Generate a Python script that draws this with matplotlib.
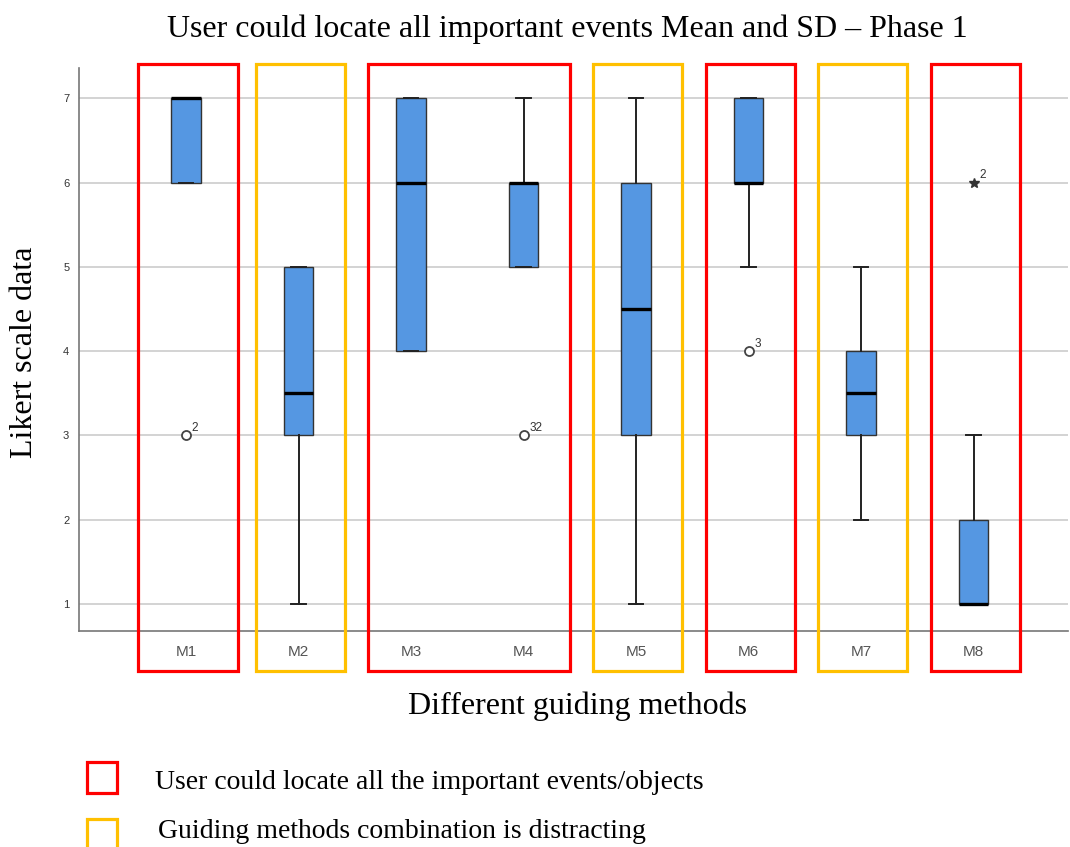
import matplotlib
matplotlib.use("Agg")
import matplotlib.pyplot as plt
import matplotlib.transforms as mtransforms
from matplotlib.patches import Rectangle

# Likert summary per guiding method
methods = ["M1", "M2", "M3", "M4", "M5", "M6", "M7", "M8"]
q1 = [6, 3, 4, 5, 3, 6, 3, 1]
median = [7, 3.5, 6, 6, 4.5, 6, 3.5, 1]
q3 = [7, 5, 7, 6, 6, 7, 4, 2]
whisker_low = [6, 1, 4, 5, 1, 5, 2, 1]
whisker_high = [7, 5, 7, 7, 7, 7, 5, 3]

# Outliers (o) and extreme values (*), with case labels
outlier_method = [1, 4, 6]
outlier_value = [3, 3, 4]
outlier_label = ["2", "32", "3"]
extreme_method = [8]
extreme_value = [6]
extreme_label = ["2"]

y_ticks = [1, 2, 3, 4, 5, 6, 7]

# Highlight groups: (first method, last method, category)
groups = [(1, 1, "locate"), (2, 2, "distract"), (3, 4, "locate"), (5, 5, "distract"),
          (6, 6, "locate"), (7, 7, "distract"), (8, 8, "locate")]
legend_labels = {"locate": "User could locate all the important events/objects",
                 "distract": "Guiding methods combination is distracting"}

RED = "#FF0000"
ORANGE = "#FFC000"
BOX = "#5597E2"
group_colors = {"locate": RED, "distract": ORANGE}

W, H = 1070, 847
fig = plt.figure(figsize=(W / 100, H / 100), dpi=100)
ax = fig.add_axes([79 / W, (H - 631) / H, (1068 - 79) / W, (631 - 68) / H])

stats = []
for i in range(len(methods)):
    stats.append(dict(med=median[i], q1=q1[i], q3=q3[i],
                      whislo=whisker_low[i], whishi=whisker_high[i], fliers=[]))
positions = list(range(1, len(methods) + 1))
ax.bxp(stats, positions=positions, widths=0.26, capwidths=0.13, patch_artist=True,
       showfliers=False,
       boxprops=dict(facecolor=BOX, edgecolor="#333333", linewidth=1.0),
       medianprops=dict(color="black", linewidth=2.4),
       whiskerprops=dict(color="#222222", linewidth=1.4),
       capprops=dict(color="#222222", linewidth=1.4))

ax.plot(outlier_method, outlier_value, linestyle="none", marker="o", markersize=6.5,
        markerfacecolor="white", markeredgecolor="#444444", markeredgewidth=1.3, zorder=4)
ax.plot(extreme_method, extreme_value, linestyle="none", marker="*", markersize=7,
        color="#333333", zorder=4)
for xm, yv, lab in zip(outlier_method + extreme_method, outlier_value + extreme_value,
                       outlier_label + extreme_label):
    ax.annotate(lab, (xm, yv), xytext=(4, 3), textcoords="offset points",
                fontsize=8.5, color="#333333", family="Liberation Sans")

ax.set_xlim(0.048, 8.84)
ax.set_ylim(0.68, 7.36)
ax.set_yticks(y_ticks)
ax.set_yticklabels([str(t) for t in y_ticks], fontsize=8, color="#333333",
                   family="Liberation Sans")
ax.set_xticks(positions)
ax.set_xticklabels(methods, fontsize=11, color="#555555", family="Liberation Sans")
ax.tick_params(axis="y", length=0, pad=7)
ax.tick_params(axis="x", length=0, pad=10)
ax.grid(axis="y", color="#D0D0D0", linewidth=1.3)
ax.set_axisbelow(True)
for side in ("top", "right"):
    ax.spines[side].set_visible(False)
for side in ("left", "bottom"):
    ax.spines[side].set_color("#777777")
    ax.spines[side].set_linewidth(1.2)

# Coloured outlines around method groups, spanning down past the tick labels
blend = mtransforms.blended_transform_factory(ax.transData, fig.transFigure)
y_bot = (H - 671) / H
y_top = (H - 64) / H
for first, last, kind in groups:
    left_pad, right_pad = (0.43, 0.46) if first == 1 else (0.38, 0.41)
    x0 = first - left_pad
    x1 = last + right_pad
    ax.add_patch(Rectangle((x0, y_bot), x1 - x0, y_top - y_bot, transform=blend,
                           fill=False, edgecolor=group_colors[kind], linewidth=2.3,
                           clip_on=False, zorder=5))

serif = "Liberation Serif"
fig.text(567 / W, 1 - 37 / H, "User could locate all important events Mean and SD \u2013 Phase 1",
         ha="center", va="baseline", fontsize=23, family=serif)
fig.text(25 / W, 1 - 352 / H, "Likert scale data", rotation=90, ha="center", va="center",
         fontsize=23, family=serif)
fig.text(578 / W, 1 - 714 / H, "Different guiding methods", ha="center", va="baseline",
         fontsize=23, family=serif)

# Legend keys
for kind, ytop_px, text_x, base_px in [("locate", 762, 155, 789), ("distract", 819, 158, 838)]:
    fig.patches.append(Rectangle((87 / W, 1 - (ytop_px + 31) / H), 30 / W, 31 / H,
                                 transform=fig.transFigure, fill=False,
                                 edgecolor=group_colors[kind], linewidth=2.3))
    fig.text(text_x / W, 1 - base_px / H, legend_labels[kind], ha="left",
             va="baseline", fontsize=20, family=serif)

fig.savefig("out.png", dpi=100)
